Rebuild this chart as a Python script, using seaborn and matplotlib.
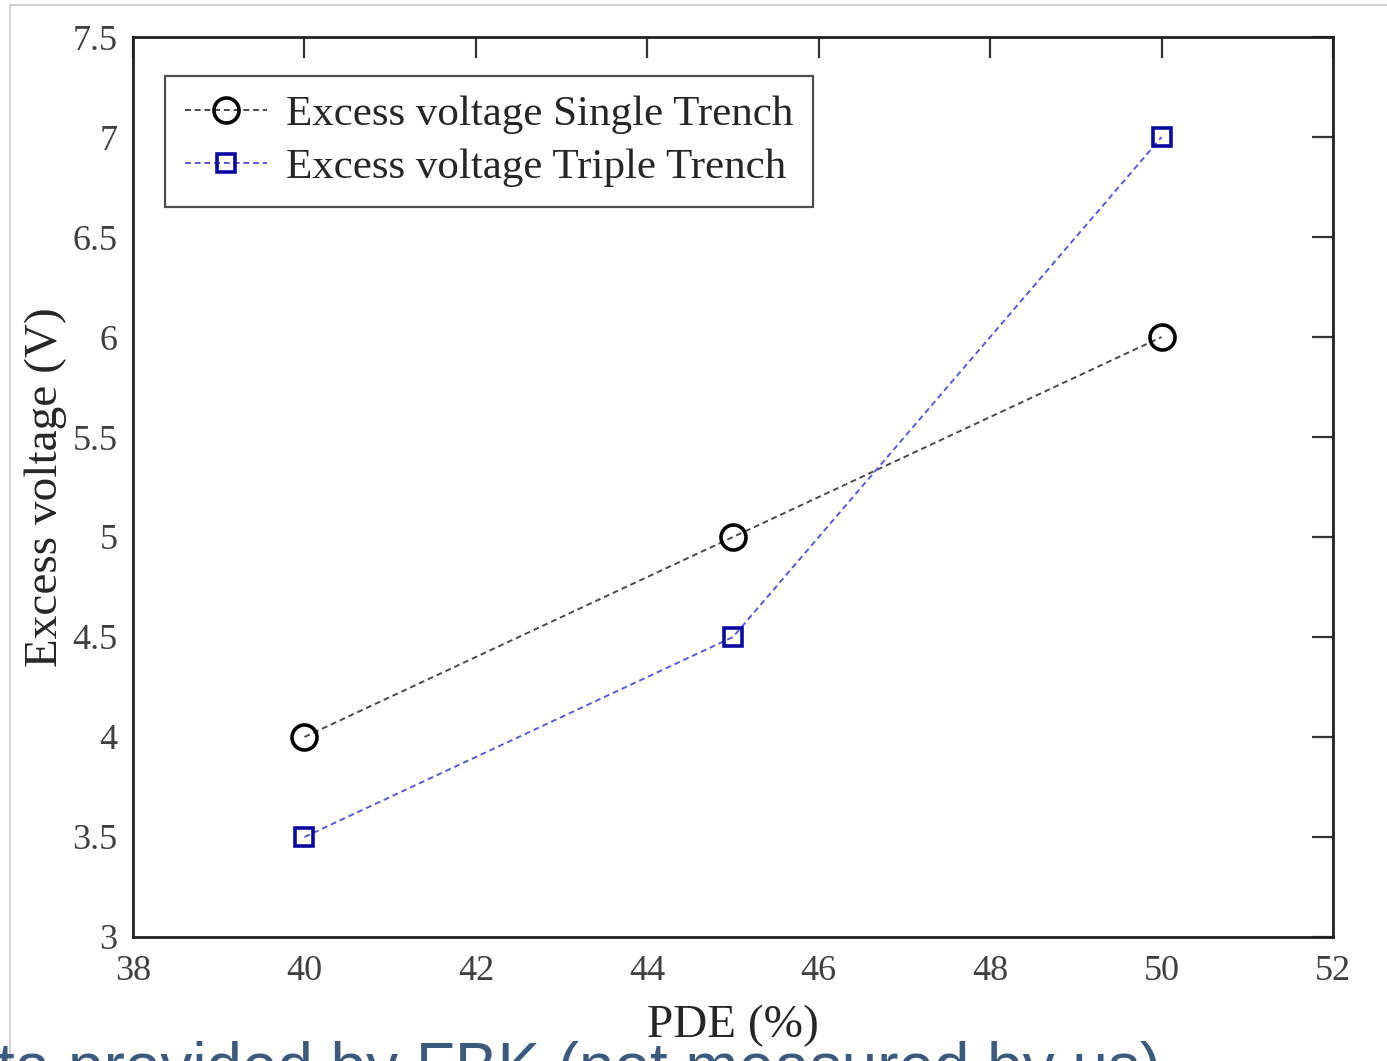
import pandas as pd
import seaborn as sns
import matplotlib.pyplot as plt
from matplotlib.ticker import FuncFormatter

# data
pde = [40, 45, 50]
single_trench = [4.0, 5.0, 6.0]
triple_trench = [3.5, 4.5, 7.0]
x_ticks = [38, 40, 42, 44, 46, 48, 50, 52]
y_ticks = [3, 3.5, 4, 4.5, 5, 5.5, 6, 6.5, 7, 7.5]

df = pd.DataFrame({
    "PDE": pde * 2,
    "V": single_trench + triple_trench,
    "series": ["Excess voltage Single Trench"] * 3 + ["Excess voltage Triple Trench"] * 3,
})

sns.set_style("white")
plt.rcParams["font.family"] = ["Liberation Serif", "DejaVu Serif"]

fig = plt.figure(figsize=(13.87, 10.61), dpi=100)
ax = fig.add_axes([0.0959, 0.1169, 0.8652, 0.8482])

# single trench: grey dashed line, black open circles
sns.lineplot(data=df[df.series == "Excess voltage Single Trench"], x="PDE", y="V",
             ax=ax, color="#4a4a4a", linestyle=(0, (3, 2)), linewidth=1.4,
             marker="o", markersize=18, markerfacecolor="none",
             markeredgecolor="black", markeredgewidth=2.6,
             label="Excess voltage Single Trench")
# triple trench: light blue dashed line, navy open squares
sns.lineplot(data=df[df.series == "Excess voltage Triple Trench"], x="PDE", y="V",
             ax=ax, color="#5a5ad8", linestyle=(0, (3, 2)), linewidth=1.4,
             marker="s", markersize=13, markerfacecolor="none",
             markeredgecolor="#0a0aa0", markeredgewidth=2.6,
             label="Excess voltage Triple Trench")

ax.set_xlim(38, 52)
ax.set_ylim(3, 7.5)
ax.set_xticks(x_ticks)
ax.set_yticks(y_ticks)
ax.yaxis.set_major_formatter(FuncFormatter(lambda v, p: "%g" % v))
ax.tick_params(direction="in", length=15, width=1.6, color="#333333",
               top=True, right=True, labelsize=26, labelcolor="#404040")
ax.tick_params(axis="x", pad=13)
ax.tick_params(axis="y", pad=11)
for s in ax.spines.values():
    s.set_linewidth(2)
    s.set_color("#222222")

ax.set_xlabel("PDE (%)", fontsize=34, labelpad=12)
ax.set_ylabel("Excess voltage (V)", fontsize=34, labelpad=4)

leg = ax.legend(loc="upper left", bbox_to_anchor=(0.027, 0.957), fontsize=31,
                frameon=True, fancybox=False, edgecolor="#222222",
                handlelength=1.9, handletextpad=0.45, borderpad=0.45,
                labelspacing=0.32, borderaxespad=0)
leg.get_frame().set_linewidth(1.6)

# screenshot frame and clipped caption
fig.add_artist(plt.Line2D([0.0072, 1.0], [0.9953, 0.9953], color="#cccccc", linewidth=1.2))
fig.add_artist(plt.Line2D([0.0072, 0.0072], [0.0, 0.9953], color="#cccccc", linewidth=1.2))
fig.text(-0.002, -0.038, "ta provided by FBK (not measured by us)",
         fontsize=46, color="#3b5a7e", family=["Liberation Sans", "DejaVu Sans"],
         ha="left", va="bottom")

fig.savefig("out.png", dpi=100)
